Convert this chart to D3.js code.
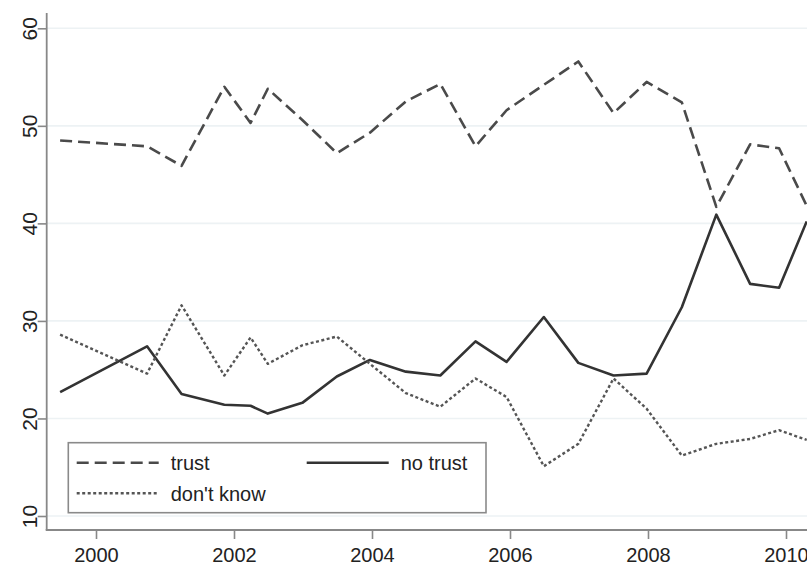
<!DOCTYPE html>
<html>
<head>
<meta charset="utf-8">
<script src="https://cdn.jsdelivr.net/npm/d3@7"></script>
<style>
  html, body { margin: 0; padding: 0; background: #fff; }
  svg { display: block; }
  text { font-family: "Liberation Sans", Arial, Helvetica, sans-serif; fill: #222; }
</style>
</head>
<body>
<svg id="chart" width="807" height="567"></svg>
<script>
// Survey waves (fractional years) and the share of answers per wave, in %
const waves = [1999.48, 2000.74, 2001.24, 2001.86, 2002.24, 2002.49, 2002.99, 2003.49,
               2003.97, 2004.49, 2004.99, 2005.5, 2005.95, 2006.49, 2006.99, 2007.5,
               2007.98, 2008.49, 2008.99, 2009.48, 2009.9, 2010.3];
const trust    = [48.5, 47.9, 45.9, 54.0, 50.3, 53.8, 50.6, 47.2, 49.3, 52.5, 54.3, 47.9,
                  51.6, 54.2, 56.6, 51.3, 54.5, 52.4, 41.7, 48.1, 47.7, 41.8];
const noTrust  = [22.7, 27.4, 22.5, 21.4, 21.3, 20.5, 21.6, 24.3, 26.0, 24.8, 24.4, 27.9,
                  25.8, 30.4, 25.7, 24.4, 24.6, 31.4, 40.9, 33.8, 33.4, 40.2];
const dontKnow = [28.6, 24.6, 31.6, 24.4, 28.3, 25.6, 27.5, 28.4, 25.6, 22.6, 21.2, 24.1,
                  22.2, 15.1, 17.4, 24.1, 21.0, 16.2, 17.4, 17.9, 18.8, 17.8];

const yTicks = [10, 20, 30, 40, 50, 60];
const xTicks = [2000, 2002, 2004, 2006, 2008, 2010];

const seriesList = [
  { name: "trust",      values: trust,    dash: "12,6", width: 2.6, color: "#4a4a4a" },
  { name: "no trust",   values: noTrust,  dash: null,   width: 2.6, color: "#333" },
  { name: "don't know", values: dontKnow, dash: "3,2.5", width: 2.4, color: "#555" }
];

const svg = d3.select("#chart");

const x = d3.scaleLinear().domain([2000, 2010]).range([96, 786]);
const y = d3.scaleLinear().domain([10, 60]).range([516, 28.3]);

const frame = { left: 46.7, top: 13, bottom: 530, right: 807 };

// horizontal grid
svg.append("g")
  .selectAll("line")
  .data(yTicks)
  .join("line")
  .attr("x1", frame.left).attr("x2", frame.right)
  .attr("y1", d => y(d)).attr("y2", d => y(d))
  .attr("stroke", "#edf2f4").attr("stroke-width", 1.6);

// y axis
const yAxis = svg.append("g")
  .attr("transform", `translate(${frame.left},0)`)
  .call(d3.axisLeft(y).tickValues(yTicks).tickSize(9).tickPadding(0).tickFormat(d3.format("d")));
yAxis.select(".domain").remove();
yAxis.selectAll(".tick line").attr("stroke", "#888").attr("stroke-width", 1.6);
yAxis.selectAll(".tick text")
  .attr("x", 0)
  .attr("transform", "translate(-17,0) rotate(-90)")
  .attr("text-anchor", "middle")
  .attr("dy", "0.36em")
  .style("font-size", "21px")
  .style("font-family", "'Liberation Sans', Arial, sans-serif")
  .attr("fill", "#222");
svg.append("line")
  .attr("x1", frame.left).attr("x2", frame.left)
  .attr("y1", frame.top).attr("y2", frame.bottom)
  .attr("stroke", "#888").attr("stroke-width", 1.8);

// x axis
const xAxis = svg.append("g")
  .attr("transform", `translate(0,${frame.bottom})`)
  .call(d3.axisBottom(x).tickValues(xTicks).tickSize(9).tickPadding(9).tickFormat(d3.format("d")));
xAxis.select(".domain").remove();
xAxis.selectAll(".tick line").attr("stroke", "#888").attr("stroke-width", 1.6);
xAxis.selectAll(".tick text")
  .style("font-size", "20px")
  .style("font-family", "'Liberation Sans', Arial, sans-serif")
  .attr("fill", "#222");
svg.append("line")
  .attr("x1", frame.left - 1).attr("x2", frame.right)
  .attr("y1", frame.bottom).attr("y2", frame.bottom)
  .attr("stroke", "#888").attr("stroke-width", 1.8);

// series lines
const line = d3.line()
  .x((d, i) => x(waves[i]))
  .y(d => y(d));

svg.append("g")
  .selectAll("path")
  .data(seriesList)
  .join("path")
  .attr("d", s => line(s.values))
  .attr("fill", "none")
  .attr("stroke", s => s.color)
  .attr("stroke-width", s => s.width)
  .attr("stroke-dasharray", s => s.dash)
  .attr("stroke-linejoin", "round");

// legend
const legend = svg.append("g");
legend.append("rect")
  .attr("x", 68.3).attr("y", 442.7)
  .attr("width", 417.7).attr("height", 70)
  .attr("fill", "#fff")
  .attr("stroke", "#8a8a8a").attr("stroke-width", 1.6);

const legendItems = [
  { s: seriesList[0], lx: 76.7, ty: 462.7 },
  { s: seriesList[1], lx: 306.7, ty: 462.7 },
  { s: seriesList[2], lx: 76.7, ty: 493.3 }
];
legendItems.forEach(item => {
  legend.append("line")
    .attr("x1", item.lx).attr("x2", item.lx + 82)
    .attr("y1", item.ty).attr("y2", item.ty)
    .attr("stroke", item.s.color)
    .attr("stroke-width", item.s.width)
    .attr("stroke-dasharray", item.s.dash);
  legend.append("text")
    .attr("x", item.lx + 94)
    .attr("y", item.ty)
    .attr("dy", "0.36em")
    .style("font-size", "20px")
    .text(item.s.name);
});
</script>
</body>
</html>
